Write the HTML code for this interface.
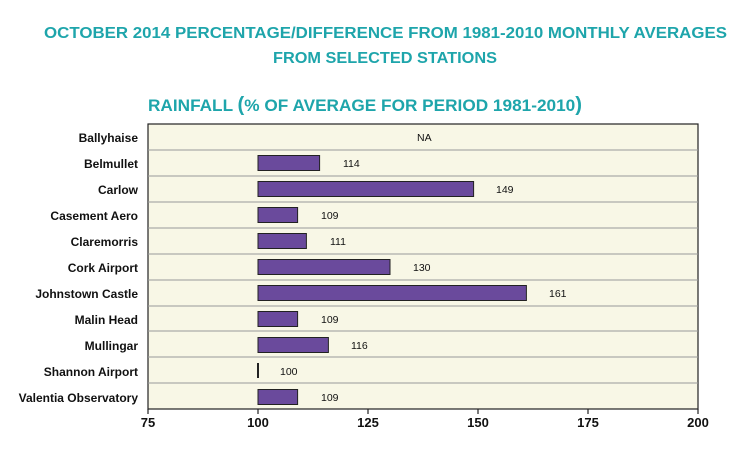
<!DOCTYPE html>
<html><head><style>
body{margin:0;background:#fff;width:730px;height:447px;overflow:hidden;font-family:"Liberation Sans",Arial,sans-serif}
</style></head><body>
<svg width="730" height="447" xmlns="http://www.w3.org/2000/svg" font-family="Liberation Sans, Arial, sans-serif">
<text x="44" y="38" textLength="683" lengthAdjust="spacingAndGlyphs" font-size="16" font-weight="bold" fill="#1ea5ab">OCTOBER 2014 PERCENTAGE/DIFFERENCE FROM 1981-2010 MONTHLY AVERAGES</text>
<text x="273" y="63" textLength="224" lengthAdjust="spacingAndGlyphs" font-size="16" font-weight="bold" fill="#1ea5ab">FROM SELECTED STATIONS</text>
<text x="148" y="111" textLength="434" lengthAdjust="spacingAndGlyphs" font-size="17" font-weight="bold" fill="#1ea5ab">RAINFALL <tspan font-size="20">(</tspan>% OF AVERAGE FOR PERIOD 1981-2010<tspan font-size="20">)</tspan></text>
<rect x="148" y="124" width="550" height="285" fill="#f8f7e6" stroke="#222" stroke-width="1.2"/>
<g stroke="#999" stroke-width="1">
<line x1="148" x2="698" y1="150" y2="150"/><line x1="148" x2="698" y1="176" y2="176"/>
<line x1="148" x2="698" y1="202" y2="202"/><line x1="148" x2="698" y1="228" y2="228"/>
<line x1="148" x2="698" y1="254" y2="254"/><line x1="148" x2="698" y1="280" y2="280"/>
<line x1="148" x2="698" y1="306" y2="306"/><line x1="148" x2="698" y1="331" y2="331"/>
<line x1="148" x2="698" y1="357" y2="357"/><line x1="148" x2="698" y1="383" y2="383"/>
</g>
<g fill="#6a4a9c" stroke="#222" stroke-width="1">
<rect x="258" y="155.5" width="61.6" height="15"/>
<rect x="258" y="181.5" width="215.6" height="15"/>
<rect x="258" y="207.5" width="39.6" height="15"/>
<rect x="258" y="233.5" width="48.4" height="15"/>
<rect x="258" y="259.5" width="132" height="15"/>
<rect x="258" y="285.5" width="268.4" height="15"/>
<rect x="258" y="311.5" width="39.6" height="15"/>
<rect x="258" y="337.5" width="70.4" height="15"/>
<rect x="258" y="389.5" width="39.6" height="15"/>
</g>
<line x1="258" x2="258" y1="363" y2="378" stroke="#222" stroke-width="2"/>
<g font-size="10.5" fill="#111">
<text x="417" y="141">NA</text>
<text x="343" y="167">114</text>
<text x="496" y="193">149</text>
<text x="321" y="219">109</text>
<text x="330" y="245">111</text>
<text x="413" y="271">130</text>
<text x="549" y="297">161</text>
<text x="321" y="323">109</text>
<text x="351" y="349">116</text>
<text x="280" y="375">100</text>
<text x="321" y="401">109</text>
</g>
<g font-size="12" font-weight="bold" fill="#111" text-anchor="end">
<text x="138" y="142">Ballyhaise</text>
<text x="138" y="168">Belmullet</text>
<text x="138" y="194">Carlow</text>
<text x="138" y="220">Casement Aero</text>
<text x="138" y="246">Claremorris</text>
<text x="138" y="272">Cork Airport</text>
<text x="138" y="298">Johnstown Castle</text>
<text x="138" y="324">Malin Head</text>
<text x="138" y="350">Mullingar</text>
<text x="138" y="376">Shannon Airport</text>
<text x="138" y="402">Valentia Observatory</text>
</g>
<g stroke="#222" stroke-width="1.2">
<line x1="148" x2="148" y1="409" y2="414"/><line x1="258" x2="258" y1="409" y2="414"/>
<line x1="368" x2="368" y1="409" y2="414"/><line x1="478" x2="478" y1="409" y2="414"/>
<line x1="588" x2="588" y1="409" y2="414"/><line x1="698" x2="698" y1="409" y2="414"/>
</g>
<g font-size="13" font-weight="bold" fill="#111" text-anchor="middle">
<text x="148" y="427">75</text><text x="258" y="427">100</text><text x="368" y="427">125</text>
<text x="478" y="427">150</text><text x="588" y="427">175</text><text x="698" y="427">200</text>
</g>
</svg>
</body></html>
